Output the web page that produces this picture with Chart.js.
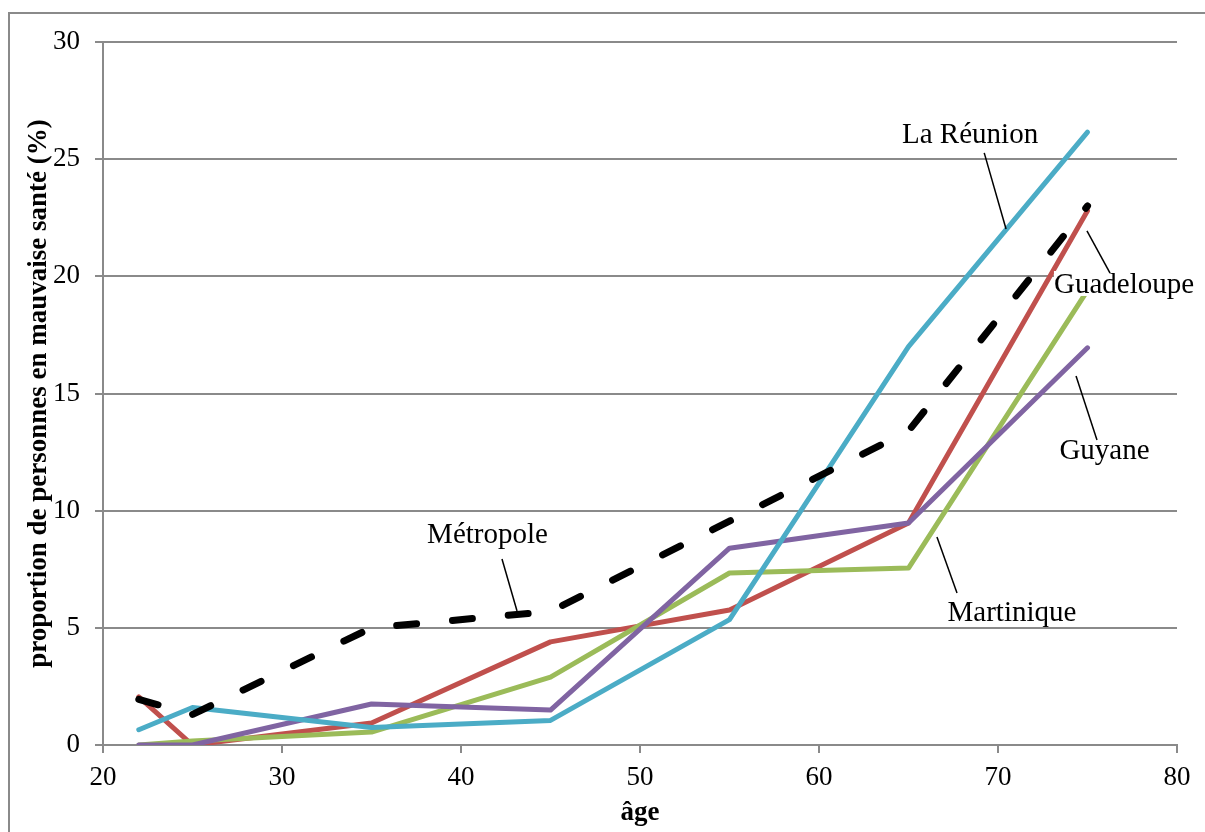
<!DOCTYPE html>
<html>
<head>
<meta charset="utf-8">
<script src="https://cdn.jsdelivr.net/npm/chart.js@4.4.1/dist/chart.umd.min.js"></script>
<style>
  body { margin: 0; background: #fff; }
  #wrap { width: 1205px; height: 832px; }
</style>
</head>
<body>
<div id="wrap"><canvas id="healthChart" width="1205" height="832"></canvas></div>
<script>
// age classes (x) and share in poor health (%) per region
const ages = [22, 25, 35, 45, 55, 65, 75];
const guadeloupe = [2.05, 0, 0.94, 4.4, 5.76, 9.47, 22.8];
const martinique = [0, 0.17, 0.55, 2.9, 7.34, 7.55, 19.4];
const guyane = [0, 0, 1.75, 1.49, 8.4, 9.47, 16.95];
const reunion = [0.65, 1.6, 0.75, 1.05, 5.35, 17.0, 26.15];
const metropole = [1.95, 1.3, 5.0, 5.7, 9.55, 13.4, 23.0];

const xTicks = [20, 30, 40, 50, 60, 70, 80];
const yTicks = [0, 5, 10, 15, 20, 25, 30];

const GRID = "#8a8a8a";
const SERIF = "'Liberation Serif', 'Times New Roman', serif";

function pts(ys) {
    return ages.map((a, i) => ({ x: a, y: ys[i] }));
}

// callout labels, placed in data units: text anchor + leader line
const callouts = [
    { text: "La Réunion", at: [68.44, 25.69], line: [[69.23, 25.27], [70.45, 22.02]] },
    { text: "Guadeloupe", at: [77.04, 19.29], line: [[74.97, 21.94], [76.26, 20.14]] },
    { text: "Guyane", at: [75.95, 12.21], line: [[74.36, 15.75], [75.53, 13.02]] },
    { text: "Martinique", at: [70.78, 5.29], line: [[66.59, 8.88], [67.71, 6.49]] },
    { text: "Métropole", at: [41.48, 8.62], line: [[42.29, 7.94], [43.13, 5.72]] }
];

const calloutPlugin = {
    id: "callouts",
    beforeDraw(chart) {
        const c = chart.ctx;
        c.save();
        c.strokeStyle = GRID;
        c.lineWidth = 2;
        c.beginPath();
        c.moveTo(9, 832);
        c.lineTo(9, 13);
        c.lineTo(1205, 13);
        c.stroke();
        c.restore();
    },
    afterDraw(chart) {
        const c = chart.ctx;
        const xs = chart.scales.x, ys = chart.scales.y;
        c.save();
        c.strokeStyle = "#000";
        c.lineWidth = 1.5;
        c.font = "29px " + SERIF;
        c.textAlign = "center";
        c.textBaseline = "alphabetic";
        callouts.forEach(o => {
            const tx = xs.getPixelForValue(o.at[0]);
            const ty = ys.getPixelForValue(o.at[1]);
            const w = c.measureText(o.text).width;
            c.fillStyle = "#fff";
            c.fillRect(tx - w / 2, ty - 22, w, 25);
            c.fillStyle = "#000";
            c.fillText(o.text, tx, ty);
            c.beginPath();
            c.moveTo(xs.getPixelForValue(o.line[0][0]), ys.getPixelForValue(o.line[0][1]));
            c.lineTo(xs.getPixelForValue(o.line[1][0]), ys.getPixelForValue(o.line[1][1]));
            c.stroke();
        });
        c.restore();
    }
};

function series(label, ys, color, order) {
    return {
        label: label,
        data: pts(ys),
        borderColor: color,
        borderWidth: 5,
        borderCapStyle: "round",
        borderJoinStyle: "round",
        pointRadius: 0,
        tension: 0,
        fill: false,
        order: order
    };
}

const metro = series("Métropole", metropole, "#000000", 0);
metro.borderWidth = 7;
metro.borderDash = [20, 36];

new Chart(document.getElementById("healthChart"), {
    type: "line",
    data: {
        datasets: [
            metro,
            series("La Réunion", reunion, "#4bacc6", 1),
            series("Guyane", guyane, "#8064a2", 2),
            series("Martinique", martinique, "#9bbb59", 3),
            series("Guadeloupe", guadeloupe, "#c0504d", 4)
        ]
    },
    options: {
        responsive: false,
        animation: false,
        devicePixelRatio: 1,
        layout: { padding: { top: 42, right: 28, left: 0, bottom: 0 } },
        plugins: {
            legend: { display: false },
            tooltip: { enabled: false }
        },
        scales: {
            x: {
                type: "linear",
                min: 20,
                max: 80,
                afterFit(s) { s.height = 87; },
                afterBuildTicks(s) { s.ticks = xTicks.map(v => ({ value: v })); },
                grid: { drawOnChartArea: false, drawTicks: true, tickLength: 8, color: GRID, lineWidth: 2 },
                border: { display: true, color: GRID, width: 2 },
                ticks: { color: "#000", padding: 9, font: { family: SERIF, size: 27 } },
                title: {
                    display: true,
                    text: "âge",
                    color: "#000",
                    padding: { top: 0, bottom: 3 },
                    font: { family: SERIF, size: 27, weight: "bold" }
                }
            },
            y: {
                min: 0,
                max: 30,
                afterFit(s) { s.width = 103; },
                afterBuildTicks(s) { s.ticks = yTicks.map(v => ({ value: v })); },
                grid: { drawTicks: true, tickLength: 8, color: GRID, lineWidth: 2 },
                border: { display: true, color: GRID, width: 2 },
                ticks: { color: "#000", padding: 15, font: { family: SERIF, size: 27 } },
                title: {
                    display: true,
                    text: "proportion de personnes en mauvaise santé (%)",
                    color: "#000",
                    padding: { top: 23, bottom: 0 },
                    font: { family: SERIF, size: 27, weight: "bold" }
                }
            }
        }
    },
    plugins: [calloutPlugin]
});
</script>
</body>
</html>
